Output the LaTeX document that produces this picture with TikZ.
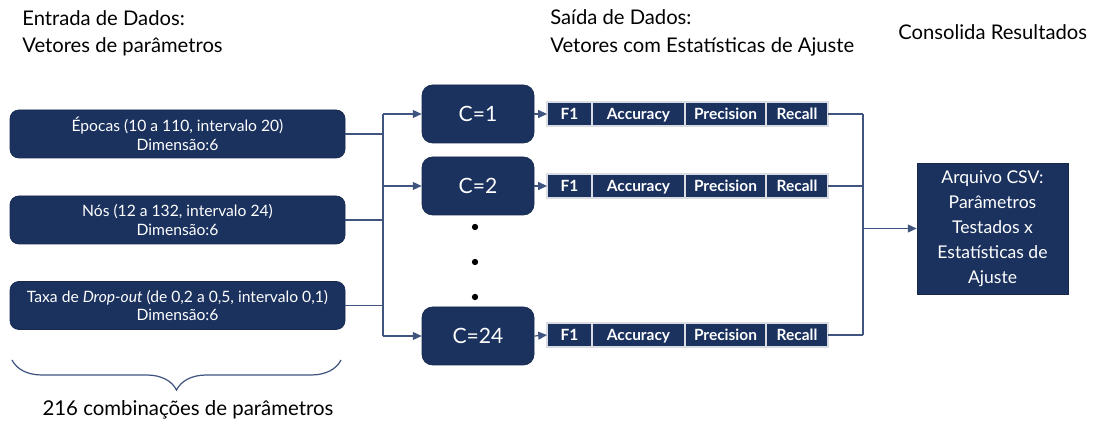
\documentclass[tikz,border=0pt]{standalone}
\usepackage{fontspec}
\setmainfont{Lato}
\usetikzlibrary{positioning, arrows.meta, decorations.pathreplacing}
\definecolor{navy}{HTML}{1B325F}
\definecolor{wire}{HTML}{3F5580}
\definecolor{frame}{HTML}{D9DDE3}

\begin{document}
\begin{tikzpicture}
        % Define styles
        \tikzset{
            title/.style={font=\fontsize{11.5}{15.5}\selectfont, align=left, anchor=west, inner sep=0pt},
            inbox/.style={draw=navy!80!black, fill=navy, rounded corners=5pt, text=white, minimum width=6.7cm, minimum height=0.96cm, align=center, font=\fontsize{8.9}{10.5}\selectfont},
            cbox/.style={draw=navy!80!black, fill=navy, rounded corners=6pt, text=white, minimum width=2.24cm, minimum height=1.16cm, font=\fontsize{12}{14}\selectfont},
            cell/.style={draw=frame, line width=0.8pt, fill=navy, text=white, minimum height=0.48cm, inner sep=0pt, outer sep=0pt, text height=1.5ex, text depth=0.3ex, font=\fontsize{8.8}{9}\selectfont\bfseries},
            csvbox/.style={draw=navy!80!black, fill=navy, text=white, minimum width=3.02cm, minimum height=2.62cm, align=center, font=\fontsize{10}{14.2}\selectfont},
            wireline/.style={wire, line width=0.7pt},
            arrow/.style={wireline, -{Triangle[length=5pt,width=4.5pt]}},
            dot/.style={circle, fill=black, inner sep=0pt, minimum size=3.6pt}
        }
        \useasboundingbox (0,0) rectangle (21.86,-8.5);
        % Titles
        \node[title] (tin) at (0.44,-0.66) {Entrada de Dados:\\Vetores de parâmetros};
        \node[title] (tout) at (11.0,-0.66) {Saída de Dados:\\Vetores com Estatísticas de Ajuste};
        \node[title] (tres) at (17.96,-0.64) {Consolida Resultados};
        % Input vectors
        \node[inbox] (in1) at (3.55,-2.68) {Épocas (10 a 110, intervalo 20)\\Dimensão:6};
        \node[inbox] (in2) at (3.55,-4.40) {Nós (12 a 132, intervalo 24)\\Dimensão:6};
        \node[inbox] (in3) at (3.55,-6.11) {Taxa de \textit{Drop-out} (de 0,2 a 0,5, intervalo 0,1)\\Dimensão:6};
        % Combinations
        \node[cbox] (c1) at (9.56,-2.28) {C=1};
        \node[cbox] (c2) at (9.56,-3.72) {C=2};
        \node[cbox] (c24) at (9.56,-6.72) {C=24};
        \node[dot] (d1) at (9.5,-4.54) {};
        \node[dot] (d2) at (9.5,-5.24) {};
        \node[dot] (d3) at (9.5,-5.94) {};
        % Output vectors (one row per combination)
        \node[cell, minimum width=0.9cm] (r1f) at (11.39,-2.28) {F1};
        \node[cell, minimum width=1.86cm, right=0pt of r1f] (r1a) {Accuracy};
        \node[cell, minimum width=1.62cm, right=0pt of r1a] (r1p) {Precision};
        \node[cell, minimum width=1.24cm, right=0pt of r1p] (r1r) {Recall};
        \node[cell, minimum width=0.9cm] (r2f) at (11.39,-3.72) {F1};
        \node[cell, minimum width=1.86cm, right=0pt of r2f] (r2a) {Accuracy};
        \node[cell, minimum width=1.62cm, right=0pt of r2a] (r2p) {Precision};
        \node[cell, minimum width=1.24cm, right=0pt of r2p] (r2r) {Recall};
        \node[cell, minimum width=0.9cm] (r3f) at (11.39,-6.70) {F1};
        \node[cell, minimum width=1.86cm, right=0pt of r3f] (r3a) {Accuracy};
        \node[cell, minimum width=1.62cm, right=0pt of r3a] (r3p) {Precision};
        \node[cell, minimum width=1.24cm, right=0pt of r3p] (r3r) {Recall};
        % Result file
        \node[csvbox] (csv) at (19.85,-4.57) {Arquivo CSV:\\Parâmetros\\Testados x\\Estatísticas de\\Ajuste};
        % Junction lines
        \coordinate (split) at (7.66,0);
        \coordinate (merge) at (17.26,0);
        \draw[wireline] (in1.east) -- (in1 -| split);
        \draw[wireline] (in2.east) -- (in2 -| split);
        \draw[wireline] (in3.east) -- (in3 -| split);
        \draw[wireline] (split |- c1) -- (split |- c24);
        \draw[arrow] (split |- c1) -- (c1.west);
        \draw[arrow] (split |- c2) -- (c2.west);
        \draw[arrow] (split |- c24) -- (c24.west);
        \draw[arrow] (c1.east) -- (r1f.west);
        \draw[arrow] (c2.east) -- (r2f.west);
        \draw[arrow] (c24.east) -- (r3f.west);
        \draw[wireline] (r1r.east) -- (r1r -| merge);
        \draw[wireline] (r2r.east) -- (r2r -| merge);
        \draw[wireline] (r3r.east) -- (r3r -| merge);
        \draw[wireline] (merge |- r1r) -- (merge |- r3r);
        \draw[arrow] (merge |- csv) -- (csv.west);
        % Brace under the inputs
        \coordinate (bl) at (0.24,-7.2);
        \coordinate (br) at (6.82,-7.2);
        \draw[wireline, decorate, decoration={brace, mirror, amplitude=0.6cm}] (bl) -- (br);
        \node[font=\fontsize{11.6}{15}\selectfont] (comb) at (3.76,-8.2) {216 combinações de parâmetros};
    \end{tikzpicture}
\end{document}
